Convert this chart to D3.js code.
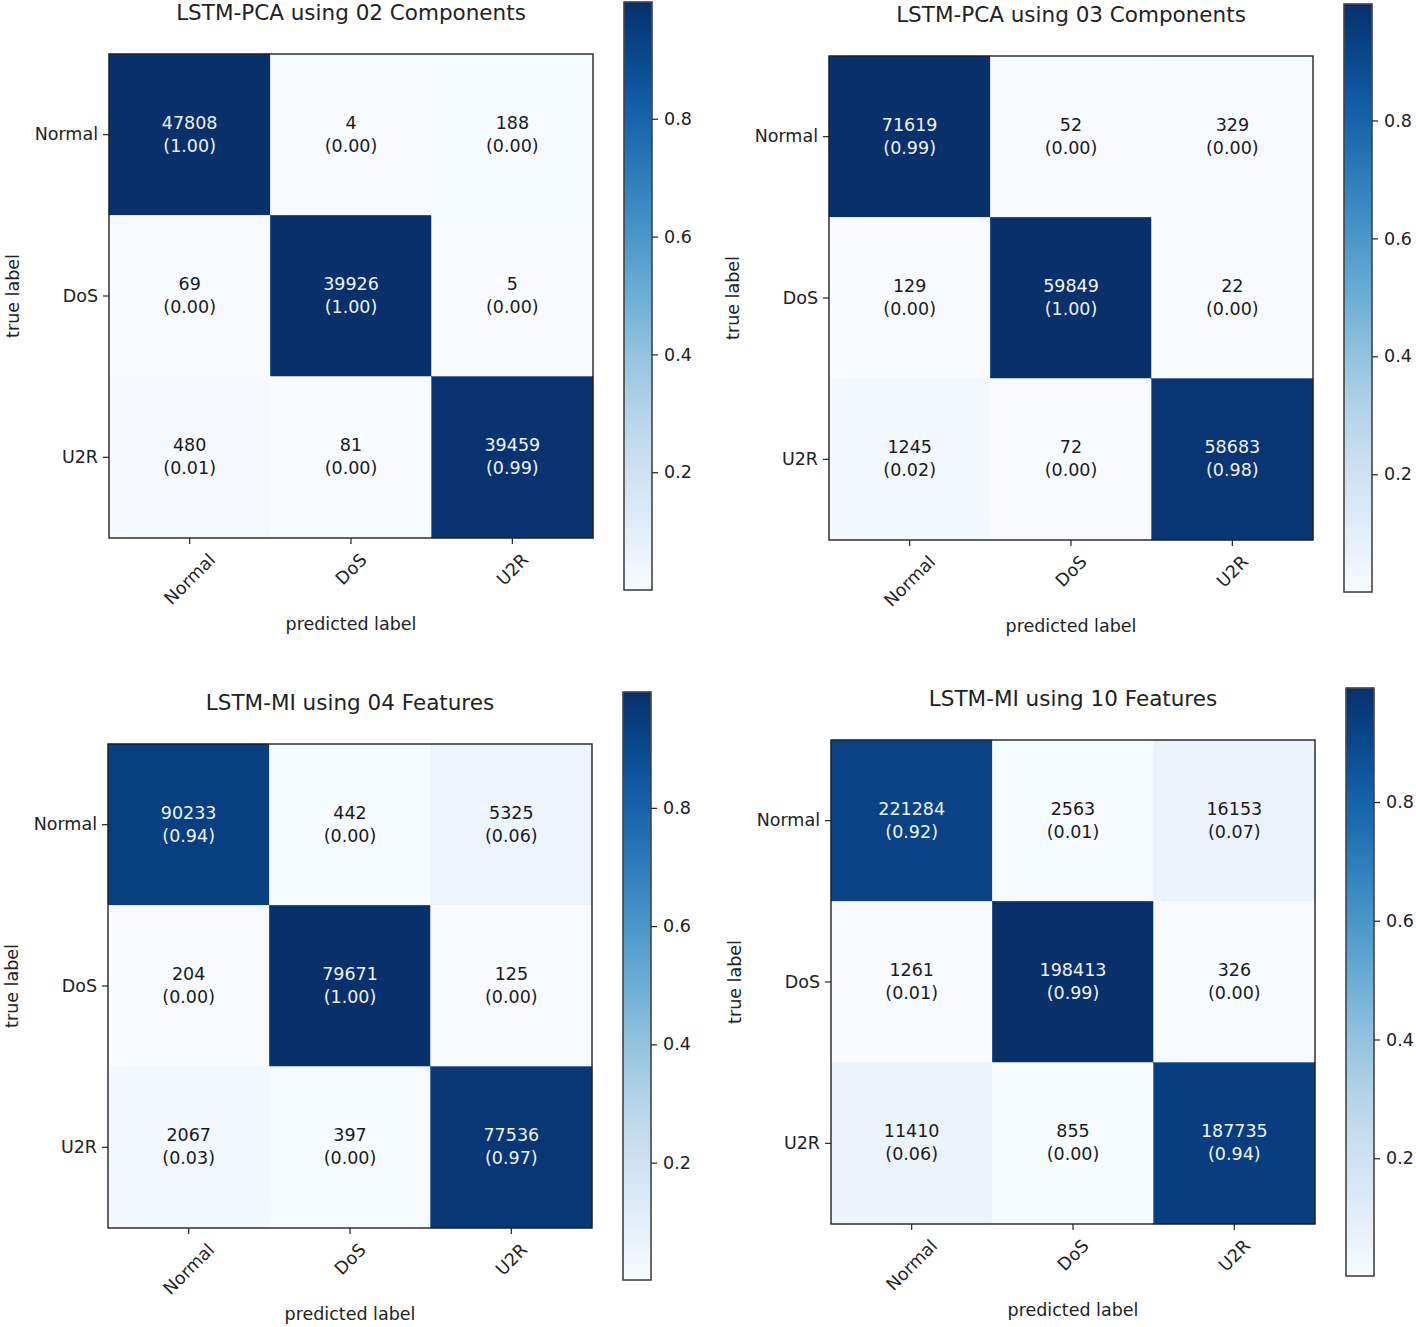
<!DOCTYPE html>
<html>
<head>
<meta charset="utf-8">
<script src="https://cdn.jsdelivr.net/npm/d3@7"></script>
<style>
  body { margin: 0; background: #fff; }
  svg text { font-family: "DejaVu Sans", sans-serif; fill: #222; }
</style>
</head>
<body>
<div id="chart"></div>
<script>
'use strict';

// class names on both axes
var classes = ["Normal", "DoS", "U2R"];

var titles = [
  "LSTM-PCA using 02 Components",
  "LSTM-PCA using 03 Components",
  "LSTM-MI using 04 Features",
  "LSTM-MI using 10 Features"
];

// raw confusion matrices (rows = true label, cols = predicted label)
var cmPca02 = [[47808, 4, 188], [69, 39926, 5], [480, 81, 39459]];
var cmPca03 = [[71619, 52, 329], [129, 59849, 22], [1245, 72, 58683]];
var cmMi04 = [[90233, 442, 5325], [204, 79671, 125], [2067, 397, 77536]];
var cmMi10 = [[221284, 2563, 16153], [1261, 198413, 326], [11410, 855, 187735]];

var cbTicks = [0.2, 0.4, 0.6, 0.8];

var matrices = [cmPca02, cmPca03, cmMi04, cmMi10];
// where each panel sits on the page
var offsets = [[0, 0], [720, 2], [-1, 690], [722, 686]];

var W = 1416, H = 1327;
var fs = 17.5;

var svg = d3.select("#chart").append("svg")
  .attr("width", W)
  .attr("height", H);

svg.append("rect").attr("width", W).attr("height", H).attr("fill", "#fff");

var box = {left: 109, top: 54, size: 484};
var cb = {x: 624, top: 2, h: 588, w: 28};

var defs = svg.append("defs");

matrices.forEach(function(cm, pi) {
  // row-normalised values
  var norm = cm.map(function(row) {
    var s = d3.sum(row);
    return row.map(function(v) { return v / s; });
  });
  var cells = [];
  cm.forEach(function(row, i) {
    row.forEach(function(v, j) {
      cells.push({r: classes[i], c: classes[j], count: v, p: norm[i][j]});
    });
  });
  var ext = d3.extent(cells, function(d) { return d.p; });
  var thresh = ext[1] / 2;

  var color = d3.scaleSequential(d3.interpolateBlues).domain(ext);

  var x = d3.scaleBand().domain(classes).range([box.left, box.left + box.size]);
  var y = d3.scaleBand().domain(classes).range([box.top, box.top + box.size]);

  var g = svg.append("g")
    .attr("transform", "translate(" + offsets[pi][0] + "," + offsets[pi][1] + ")");

  g.selectAll("rect.cell")
    .data(cells)
    .enter()
    .append("rect")
    .attr("class", "cell")
    .attr("x", function(d) { return x(d.c); })
    .attr("y", function(d) { return y(d.r); })
    .attr("width", x.bandwidth())
    .attr("height", y.bandwidth())
    .attr("fill", function(d) { return color(d.p); })
    .attr("stroke", function(d) { return color(d.p); })
    .attr("stroke-width", 0.5);

  var labels = g.selectAll("text.val")
    .data(cells)
    .enter()
    .append("text")
    .attr("class", "val")
    .attr("text-anchor", "middle")
    .style("font-size", fs + "px")
    .style("fill", function(d) { return d.p > thresh ? "#eef2f8" : "#1a1a1a"; });

  labels.append("tspan")
    .attr("x", function(d) { return x(d.c) + x.bandwidth() / 2; })
    .attr("y", function(d) { return y(d.r) + y.bandwidth() / 2 - 6; })
    .text(function(d) { return d.count; });
  labels.append("tspan")
    .attr("x", function(d) { return x(d.c) + x.bandwidth() / 2; })
    .attr("y", function(d) { return y(d.r) + y.bandwidth() / 2 + 17; })
    .text(function(d) { return "(" + d.p.toFixed(2) + ")"; });

  // frame
  g.append("rect")
    .attr("x", box.left).attr("y", box.top)
    .attr("width", box.size).attr("height", box.size)
    .attr("fill", "none")
    .attr("stroke", "#222")
    .attr("stroke-width", 1.4);

  // y axis
  var ya = g.append("g")
    .attr("transform", "translate(" + box.left + ",0)")
    .call(d3.axisLeft(y).tickSize(6).tickPadding(5));
  ya.select(".domain").remove();
  ya.selectAll("line").attr("stroke", "#222").attr("stroke-width", 1.2);
  ya.selectAll("text").style("font-size", fs + "px").attr("fill", "#222");

  // x axis with 45 degree labels
  var xa = g.append("g")
    .attr("transform", "translate(0," + (box.top + box.size) + ")")
    .call(d3.axisBottom(x).tickSize(6).tickPadding(5));
  xa.select(".domain").remove();
  xa.selectAll("line").attr("stroke", "#222").attr("stroke-width", 1.2);
  xa.selectAll("text")
    .style("font-size", fs + "px")
    .attr("fill", "#222")
    .attr("y", null)
    .attr("dy", "0.35em")
    .attr("text-anchor", "middle")
    .attr("transform", function() {
      var w = this.getComputedTextLength();
      var c = (w + fs * 0.75) / (2 * Math.SQRT2);
      return "translate(0," + (14 + c) + ") rotate(-45)";
    });

  g.append("text")
    .attr("x", box.left + box.size / 2)
    .attr("y", 20)
    .attr("text-anchor", "middle")
    .style("font-size", "21.5px")
    .text(titles[pi]);

  g.append("text")
    .attr("x", box.left + box.size / 2)
    .attr("y", 630)
    .attr("text-anchor", "middle")
    .style("font-size", fs + "px")
    .text("predicted label");

  g.append("text")
    .attr("transform", "translate(19," + (box.top + box.size / 2) + ") rotate(-90)")
    .attr("text-anchor", "middle")
    .style("font-size", fs + "px")
    .text("true label");

  // colorbar
  var gid = "cbgrad" + pi;
  var grad = defs.append("linearGradient")
    .attr("id", gid)
    .attr("x1", 0).attr("y1", 1).attr("x2", 0).attr("y2", 0);
  d3.range(0, 1.0001, 0.05).forEach(function(t) {
    grad.append("stop")
      .attr("offset", t)
      .attr("stop-color", d3.interpolateBlues(t));
  });

  var cbScale = d3.scaleLinear().domain(ext).range([cb.top + cb.h, cb.top]);

  g.append("rect")
    .attr("x", cb.x).attr("y", cb.top)
    .attr("width", cb.w).attr("height", cb.h)
    .attr("fill", "url(#" + gid + ")")
    .attr("stroke", "#444")
    .attr("stroke-width", 1.6);

  var ca = g.append("g")
    .attr("transform", "translate(" + (cb.x + cb.w) + ",0)")
    .call(d3.axisRight(cbScale).tickValues(cbTicks).tickSize(6).tickPadding(6)
      .tickFormat(d3.format(".1f")));
  ca.select(".domain").remove();
  ca.selectAll("line").attr("stroke", "#222").attr("stroke-width", 1.2);
  ca.selectAll("text").style("font-size", fs + "px").attr("fill", "#222");
});
</script>
</body>
</html>
